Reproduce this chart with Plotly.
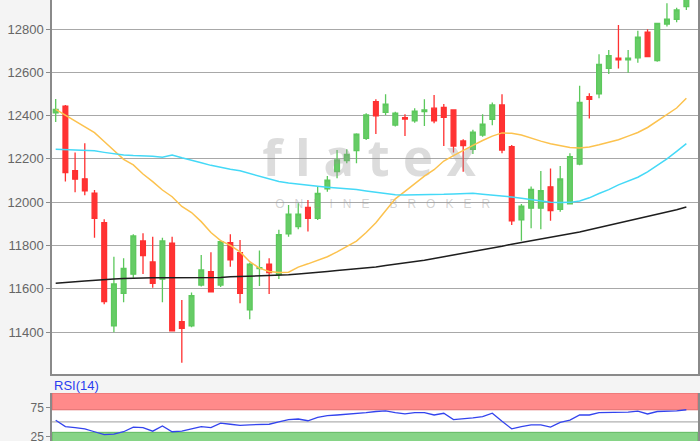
import plotly.graph_objects as go

open_ = [12413,12444,12145,12108,12042,11905,11428,11579,11667,11821,11724,11644,11810,11448,11428,11617,11679,11617,11813,11767,
         11502,11693,11714,11665,11853,11887,11976,11925,12061,12141,12192,12238,12295,12464,12415,12356,12390,12376,12418,12434,
         12438,12426,12283,12244,12310,12383,12449,12256,11918,11972,11972,12071,11967,11992,12176,12487,12500,12618,12665,12657,
         12667,12785,12654,12823,12845,12903]
high = [12477,12449,12229,12272,12056,11921,11748,11741,11852,11856,11840,11836,11840,11548,11582,11756,11768,11825,11852,11825,
        11720,11777,11741,11872,11987,11995,12010,12071,12121,12241,12244,12318,12411,12475,12498,12418,12406,12434,12475,12495,
        12454,12429,12291,12334,12406,12460,12498,12264,11991,12072,12144,12156,12167,12226,12538,12503,12683,12703,12818,12703,
        12792,12799,12829,12919,12898,12960]
low = [12370,12095,12046,12032,11836,11528,11399,11537,11651,11668,11605,11537,11405,11258,11422,11610,11582,11608,11702,11533,
       11459,11613,11576,11645,11840,11875,11864,11918,12048,12110,12180,12180,12287,12315,12403,12349,12306,12367,12352,12364,
       12259,12229,12141,12223,12302,12355,12226,11894,11822,11879,11875,11914,11956,11992,12170,12387,12480,12592,12618,12598,
       12644,12669,12649,12811,12831,12888]
close = [12428,12136,12106,12052,11925,11540,11622,11694,11844,11753,11625,11821,11405,11417,11568,11687,11586,11817,11733,11579,
         11714,11697,11674,11850,11945,11945,11925,12041,12102,12195,12221,12314,12403,12399,12453,12411,12384,12421,12426,12376,
         12392,12259,12261,12323,12360,12449,12241,11914,11982,12059,12053,11961,12107,12210,12461,12475,12637,12677,12657,12665,
         12762,12672,12826,12846,12888,12945]

ma_orange = [12429,12403,12375,12350,12321,12280,12240,12198,12172,12130,12095,12056,12025,11980,11952,11910,11860,11822,11800,11770,
             11725,11695,11680,11675,11676,11700,11715,11730,11748,11770,11795,11820,11860,11905,11960,12015,12050,12085,12120,12150,
             12190,12215,12240,12262,12285,12305,12320,12318,12310,12295,12282,12270,12260,12252,12250,12255,12265,12275,12288,12305,
             12322,12345,12375,12403,12435,12480]
ma_cyan = [12244,12243,12240,12238,12237,12230,12223,12218,12215,12215,12212,12207,12218,12205,12192,12182,12170,12160,12152,12145,
           12132,12118,12105,12095,12088,12082,12078,12073,12069,12066,12062,12058,12052,12046,12040,12034,12033,12033,12035,12035,
           12036,12038,12040,12041,12036,12033,12030,12024,12018,12012,12004,12000,11998,11999,12005,12020,12040,12058,12080,12098,
           12115,12140,12170,12200,12235,12270]
ma_black = [11625,11627,11632,11636,11640,11642,11645,11647,11649,11650,11651,11651,11651,11650,11650,11650,11651,11652,11655,11656,
            11657,11658,11660,11662,11664,11668,11673,11677,11680,11684,11688,11691,11695,11700,11707,11713,11718,11723,11732,11740,
            11748,11756,11763,11770,11777,11786,11796,11806,11814,11821,11830,11838,11845,11852,11862,11872,11882,11892,11902,11912,
            11922,11932,11945,11955,11965,11978]
rsi = [53,42,40,38,33,28,29,33,41,40,34,43,33,34,38,42,40,48,46,44,
       45,45,46,50,54,55,52,58,61,62,63,65,66,68,69,66,64,66,66,62,
       65,54,55,57,59,65,51,38,42,45,45,41,49,53,62,62,66,66,66,67,
       68.6,63.7,68,68,69,71]

price_ticks = [11400, 11600, 11800, 12000, 12200, 12400, 12600, 12800]
rsi_ticks = [25, 75]

x = list(range(len(close)))

fig = go.Figure()

# watermark (behind data)
fig.add_trace(go.Scatter(x=[32.3], y=[12180], mode="text", text=["f l a t e x"],
                         textfont=dict(family="Noto Sans", size=51, color="rgba(150,150,150,0.33)", weight="bold"),
                         hoverinfo="skip", showlegend=False, xaxis="x", yaxis="y"))
fig.add_trace(go.Scatter(x=[33.7], y=[11987], mode="text", text=["O   N   L   I   N   E      B   R   O   K   E   R"],
                         textfont=dict(family="Liberation Sans, Arial", size=12, color="rgba(150,150,150,0.42)"),
                         hoverinfo="skip", showlegend=False, xaxis="x", yaxis="y"))

fig.add_trace(go.Candlestick(x=x, open=open_, high=high, low=low, close=close,
                             increasing=dict(line=dict(color="#5cc85c", width=1.3), fillcolor="#66cc66"),
                             decreasing=dict(line=dict(color="#ff3030", width=1.3), fillcolor="#ff3333"),
                             whiskerwidth=0, showlegend=False, hoverinfo="skip", xaxis="x", yaxis="y"))
fig.add_trace(go.Scatter(x=x, y=ma_orange, mode="lines", line=dict(color="#fcc24e", width=1.5),
                         showlegend=False, hoverinfo="skip", xaxis="x", yaxis="y"))
fig.add_trace(go.Scatter(x=x, y=ma_cyan, mode="lines", line=dict(color="#44d9f7", width=1.5),
                         showlegend=False, hoverinfo="skip", xaxis="x", yaxis="y"))
fig.add_trace(go.Scatter(x=x, y=ma_black, mode="lines", line=dict(color="#1e1e1e", width=1.5),
                         showlegend=False, hoverinfo="skip", xaxis="x", yaxis="y"))
fig.add_trace(go.Scatter(x=x, y=rsi, mode="lines", line=dict(color="#3344ee", width=1.3),
                         showlegend=False, hoverinfo="skip", xaxis="x2", yaxis="y2"))

H = 441
xr = [-0.38, 66.2]
fig.update_layout(
    width=700, height=441,
    margin=dict(l=52, r=2, t=0, b=0, autoexpand=False),
    paper_bgcolor="#f4f4f4", plot_bgcolor="#ffffff",
    showlegend=False, hovermode=False,
    xaxis=dict(domain=[0, 1], range=xr, showgrid=False, zeroline=False, showticklabels=False,
               showline=True, linecolor="#8a8a8a", linewidth=1.5, ticks="", rangeslider=dict(visible=False),
               anchor="y"),
    yaxis=dict(domain=[(H - 374) / H, 1], range=[11206, 12934], tickvals=price_ticks,
               ticktext=[str(v) for v in price_ticks], showgrid=True, gridcolor="#a8a8a8", gridwidth=1.2,
               zeroline=False, showline=True, mirror=True, linecolor="#8a8a8a", linewidth=1.5,
               ticks="outside", ticklen=4, tickcolor="#8a8a8a", ticklabeloverflow="allow",
               tickfont=dict(family="Liberation Sans, Arial", size=13, color="#666666"), anchor="x"),
    xaxis2=dict(domain=[0, 1], range=xr, showgrid=False, zeroline=False, showticklabels=False,
                showline=False, ticks="", anchor="y2"),
    yaxis2=dict(domain=[0, (H - 393) / H], range=[17, 100], tickvals=rsi_ticks,
                ticktext=[str(v) for v in rsi_ticks], showgrid=False, zeroline=False,
                showline=True, mirror=True, linecolor="#8a8a8a", linewidth=1.5,
                ticks="outside", ticklen=4, tickcolor="#8a8a8a", ticklabeloverflow="allow",
                tickfont=dict(family="Liberation Sans, Arial", size=12, color="#666666"), anchor="x2"),
    shapes=[
        dict(type="rect", xref="x2 domain", yref="y2", x0=0, x1=1, y0=71, y1=100,
             fillcolor="#ff8a8a", line=dict(color="#e06a6a", width=1), layer="below"),
        dict(type="rect", xref="x2 domain", yref="y2", x0=0, x1=1, y0=0, y1=32,
             fillcolor="#86d486", line=dict(color="#5fb85f", width=1), layer="below"),
        dict(type="line", xref="x2 domain", yref="y2", x0=0, x1=1, y0=50, y1=50,
             line=dict(color="#b0b0b0", width=1.2), layer="below"),
    ],
    annotations=[
        dict(text="RSI(14)", xref="paper", yref="paper", x=0, y=(H - 385) / H, xanchor="left",
             yanchor="middle", showarrow=False, font=dict(family="Liberation Sans, Arial", size=13, color="#2a3cf0")),
    ],
)

fig.write_html("out.html", config={"displayModeBar": False},
               post_script="document.body.style.margin='0';document.body.style.overflow='hidden';")
